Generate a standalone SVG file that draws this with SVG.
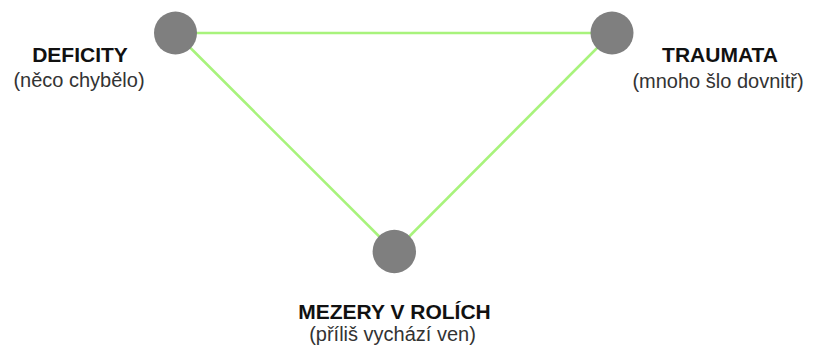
<svg xmlns="http://www.w3.org/2000/svg" width="825" height="347" viewBox="0 0 825 347">
<style>
.edge{stroke:#a8f37c;stroke-width:2.5;fill:none}
.dot{fill:#7f7f7f}
.t{font-family:"Liberation Sans",Arial,sans-serif;font-weight:bold;font-size:21px;fill:#111;text-anchor:middle}
.s{font-family:"Liberation Sans",Arial,sans-serif;font-size:20px;fill:#333;text-anchor:middle}
</style>
<rect width="825" height="347" fill="#fff"/>
<g id="connectors">
<line class="edge" x1="175.5" y1="33" x2="612" y2="33"/>
<line class="edge" x1="175.5" y1="33" x2="394.3" y2="251.5"/>
<line class="edge" x1="612" y1="33" x2="394.3" y2="251.5"/>
</g>
<g id="deficity">
<circle class="dot" cx="175.5" cy="33" r="21.5"/>
<text class="t" x="80" y="62">DEFICITY</text>
<text class="s" x="79" y="87">(něco chybělo)</text>
</g>
<g id="traumata">
<circle class="dot" cx="612" cy="33" r="21.5"/>
<text class="t" x="720" y="62">TRAUMATA</text>
<text class="s" x="718" y="88">(mnoho šlo dovnitř)</text>
</g>
<g id="mezery">
<circle class="dot" cx="394.3" cy="251.5" r="21.7"/>
<text class="t" x="394.5" y="319">MEZERY V ROLÍCH</text>
<text class="s" x="392.5" y="341">(příliš vychází ven)</text>
</g>
</svg>
